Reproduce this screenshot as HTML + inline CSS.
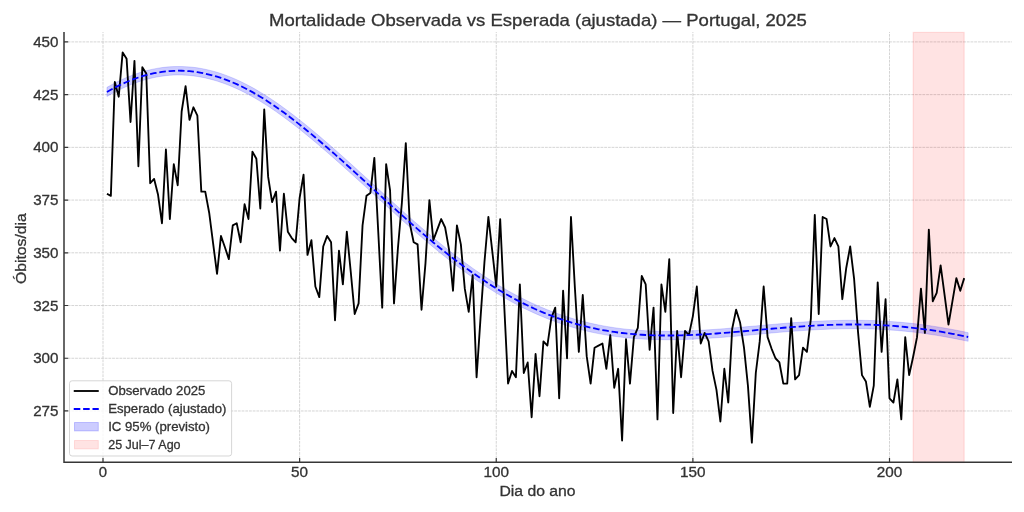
<!DOCTYPE html>
<html><head><meta charset="utf-8"><title>Mortalidade Observada vs Esperada</title>
<style>html,body{margin:0;padding:0;background:#fff;}body{width:1024px;height:512px;overflow:hidden;font-family:"Liberation Sans",sans-serif;}svg{display:block;will-change:transform;}</style>
</head><body>
<svg width="1024" height="512" viewBox="0 0 1024 512">
<rect width="1024" height="512" fill="#fff"/>
<path d="M103.00,462.2 V32.0 M299.62,462.2 V32.0 M496.25,462.2 V32.0 M692.88,462.2 V32.0 M889.50,462.2 V32.0 M64.0,410.97 H1012.0 M64.0,358.25 H1012.0 M64.0,305.52 H1012.0 M64.0,252.80 H1012.0 M64.0,200.08 H1012.0 M64.0,147.35 H1012.0 M64.0,94.62 H1012.0 M64.0,41.90 H1012.0" fill="none" stroke="#b0b0b0" stroke-opacity="0.7" stroke-width="0.75" stroke-dasharray="2.8 0.9"/>
<rect x="913.2" y="32.4" width="50.95" height="430.20" fill="#ff0000" fill-opacity="0.11" stroke="#ff0000" stroke-opacity="0.11" stroke-width="1.2"/>
<path d="M106.93,87.37 L110.86,85.16 L114.80,83.07 L118.73,81.09 L122.66,79.24 L126.59,77.51 L130.53,75.90 L134.46,74.42 L138.39,73.06 L142.32,71.83 L146.26,70.72 L150.19,69.74 L154.12,68.89 L158.06,68.17 L161.99,67.58 L165.92,67.12 L169.85,66.78 L173.78,66.58 L177.72,66.50 L181.65,66.52 L185.58,66.66 L189.51,66.93 L193.45,67.32 L197.38,67.84 L201.31,68.49 L205.25,69.25 L209.18,70.15 L213.11,71.16 L217.04,72.29 L220.98,73.54 L224.91,74.91 L228.84,76.39 L232.77,77.99 L236.71,79.70 L240.64,81.51 L244.57,83.44 L248.50,85.47 L252.44,87.60 L256.37,89.83 L260.30,92.16 L264.23,94.58 L268.16,97.08 L272.10,99.68 L276.03,102.35 L279.96,105.11 L283.89,107.94 L287.83,110.83 L291.76,113.80 L295.69,116.82 L299.62,119.91 L303.56,123.04 L307.49,126.23 L311.42,129.47 L315.36,132.75 L319.29,136.07 L323.22,139.42 L327.15,142.82 L331.09,146.24 L335.02,149.69 L338.95,153.17 L342.88,156.68 L346.81,160.21 L350.75,163.76 L354.68,167.32 L358.61,170.90 L362.55,174.49 L366.48,178.09 L370.41,181.69 L374.34,185.30 L378.28,188.91 L382.21,192.51 L386.14,196.11 L390.07,199.70 L394.00,203.28 L397.94,206.84 L401.87,210.39 L405.80,213.91 L409.74,217.41 L413.67,220.88 L417.60,224.32 L421.53,227.73 L425.47,231.11 L429.40,234.45 L433.33,237.75 L437.26,241.01 L441.19,244.23 L445.13,247.40 L449.06,250.52 L452.99,253.59 L456.93,256.62 L460.86,259.59 L464.79,262.51 L468.72,265.37 L472.66,268.18 L476.59,270.93 L480.52,273.62 L484.45,276.25 L488.38,278.82 L492.32,281.33 L496.25,283.77 L500.18,286.16 L504.12,288.48 L508.05,290.74 L511.98,292.93 L515.91,295.06 L519.85,297.12 L523.78,299.11 L527.71,301.05 L531.64,302.91 L535.58,304.71 L539.51,306.45 L543.44,308.12 L547.37,309.73 L551.31,311.27 L555.24,312.75 L559.17,314.16 L563.10,315.51 L567.04,316.80 L570.97,318.02 L574.90,319.19 L578.83,320.29 L582.76,321.34 L586.70,322.32 L590.63,323.25 L594.56,324.12 L598.50,324.93 L602.43,325.69 L606.36,326.40 L610.29,327.05 L614.23,327.65 L618.16,328.20 L622.09,328.70 L626.02,329.15 L629.96,329.55 L633.89,329.91 L637.82,330.23 L641.75,330.50 L645.69,330.73 L649.62,330.92 L653.55,331.06 L657.48,331.18 L661.41,331.25 L665.35,331.29 L669.28,331.30 L673.21,331.26 L677.14,331.20 L681.08,331.11 L685.01,330.99 L688.94,330.85 L692.88,330.68 L696.81,330.49 L700.74,330.27 L704.67,330.04 L708.61,329.79 L712.54,329.52 L716.47,329.24 L720.40,328.95 L724.34,328.64 L728.27,328.32 L732.20,327.99 L736.13,327.65 L740.07,327.31 L744.00,326.96 L747.93,326.61 L751.86,326.26 L755.80,325.90 L759.73,325.55 L763.66,325.19 L767.59,324.84 L771.52,324.50 L775.46,324.15 L779.39,323.82 L783.32,323.49 L787.25,323.18 L791.19,322.87 L795.12,322.58 L799.05,322.30 L802.99,322.03 L806.92,321.77 L810.85,321.54 L814.78,321.32 L818.72,321.11 L822.65,320.93 L826.58,320.77 L830.51,320.63 L834.45,320.50 L838.38,320.41 L842.31,320.33 L846.24,320.28 L850.18,320.26 L854.11,320.25 L858.04,320.27 L861.97,320.31 L865.90,320.39 L869.84,320.49 L873.77,320.61 L877.70,320.77 L881.63,320.96 L885.57,321.17 L889.50,321.42 L893.43,321.69 L897.37,322.00 L901.30,322.34 L905.23,322.70 L909.16,323.10 L913.10,323.53 L917.03,323.99 L920.96,324.48 L924.89,325.00 L928.83,325.55 L932.76,326.13 L936.69,326.74 L940.62,327.38 L944.56,328.05 L948.49,328.75 L952.42,329.48 L956.35,330.23 L960.28,331.01 L964.22,331.82 L968.15,332.65 L968.15,341.34 L964.22,340.50 L960.28,339.69 L956.35,338.90 L952.42,338.14 L948.49,337.41 L944.56,336.70 L940.62,336.02 L936.69,335.37 L932.76,334.75 L928.83,334.16 L924.89,333.60 L920.96,333.07 L917.03,332.57 L913.10,332.10 L909.16,331.66 L905.23,331.26 L901.30,330.88 L897.37,330.53 L893.43,330.22 L889.50,329.93 L885.57,329.68 L881.63,329.46 L877.70,329.26 L873.77,329.10 L869.84,328.96 L865.90,328.85 L861.97,328.77 L858.04,328.72 L854.11,328.69 L850.18,328.70 L846.24,328.73 L842.31,328.79 L838.38,328.87 L834.45,328.97 L830.51,329.10 L826.58,329.25 L822.65,329.42 L818.72,329.61 L814.78,329.82 L810.85,330.04 L806.92,330.28 L802.99,330.54 L799.05,330.82 L795.12,331.10 L791.19,331.40 L787.25,331.71 L783.32,332.03 L779.39,332.36 L775.46,332.69 L771.52,333.04 L767.59,333.38 L763.66,333.74 L759.73,334.09 L755.80,334.44 L751.86,334.80 L747.93,335.15 L744.00,335.50 L740.07,335.85 L736.13,336.19 L732.20,336.53 L728.27,336.85 L724.34,337.17 L720.40,337.47 L716.47,337.76 L712.54,338.04 L708.61,338.30 L704.67,338.55 L700.74,338.78 L696.81,338.98 L692.88,339.17 L688.94,339.33 L685.01,339.46 L681.08,339.58 L677.14,339.66 L673.21,339.71 L669.28,339.74 L665.35,339.74 L661.41,339.70 L657.48,339.64 L653.55,339.54 L649.62,339.40 L645.69,339.22 L641.75,339.01 L637.82,338.75 L633.89,338.45 L629.96,338.10 L626.02,337.71 L622.09,337.28 L618.16,336.79 L614.23,336.26 L610.29,335.67 L606.36,335.04 L602.43,334.35 L598.50,333.61 L594.56,332.81 L590.63,331.96 L586.70,331.05 L582.76,330.08 L578.83,329.05 L574.90,327.97 L570.97,326.82 L567.04,325.61 L563.10,324.34 L559.17,323.01 L555.24,321.62 L551.31,320.16 L547.37,318.64 L543.44,317.05 L539.51,315.40 L535.58,313.68 L531.64,311.90 L527.71,310.06 L523.78,308.14 L519.85,306.17 L515.91,304.12 L511.98,302.02 L508.05,299.84 L504.12,297.61 L500.18,295.31 L496.25,292.94 L492.32,290.51 L488.38,288.02 L484.45,285.47 L480.52,282.86 L476.59,280.19 L472.66,277.45 L468.72,274.66 L464.79,271.82 L460.86,268.92 L456.93,265.96 L452.99,262.95 L449.06,259.89 L445.13,256.79 L441.19,253.63 L437.26,250.43 L433.33,247.18 L429.40,243.89 L425.47,240.57 L421.53,237.20 L417.60,233.80 L413.67,230.37 L409.74,226.90 L405.80,223.41 L401.87,219.90 L397.94,216.36 L394.00,212.80 L390.07,209.23 L386.14,205.64 L382.21,202.04 L378.28,198.44 L374.34,194.83 L370.41,191.23 L366.48,187.62 L362.55,184.02 L358.61,180.42 L354.68,176.84 L350.75,173.27 L346.81,169.72 L342.88,166.19 L338.95,162.67 L335.02,159.18 L331.09,155.72 L327.15,152.29 L323.22,148.89 L319.29,145.52 L315.36,142.19 L311.42,138.90 L307.49,135.65 L303.56,132.44 L299.62,129.29 L295.69,126.19 L291.76,123.15 L287.83,120.16 L283.89,117.25 L279.96,114.40 L276.03,111.62 L272.10,108.92 L268.16,106.30 L264.23,103.77 L260.30,101.32 L256.37,98.96 L252.44,96.70 L248.50,94.54 L244.57,92.48 L240.64,90.52 L236.71,88.67 L232.77,86.93 L228.84,85.30 L224.91,83.78 L220.98,82.38 L217.04,81.09 L213.11,79.92 L209.18,78.88 L205.25,77.95 L201.31,77.14 L197.38,76.46 L193.45,75.90 L189.51,75.47 L185.58,75.16 L181.65,74.99 L177.72,74.94 L173.78,75.06 L169.85,75.31 L165.92,75.68 L161.99,76.18 L158.06,76.81 L154.12,77.57 L150.19,78.46 L146.26,79.48 L142.32,80.62 L138.39,81.90 L134.46,83.29 L130.53,84.81 L126.59,86.46 L122.66,88.23 L118.73,90.12 L114.80,92.12 L110.86,94.25 L106.93,96.48Z" fill="#0000ff" fill-opacity="0.2" stroke="#0000ff" stroke-opacity="0.15" stroke-width="1.0" stroke-linejoin="miter"/>
<path d="M106.93,193.75 L110.86,195.86 L114.80,81.97 L118.73,96.73 L122.66,52.45 L126.59,58.77 L130.53,122.04 L134.46,60.88 L138.39,166.33 L142.32,67.21 L146.26,73.53 L150.19,183.20 L154.12,178.99 L158.06,194.80 L161.99,223.27 L165.92,149.46 L169.85,219.06 L173.78,164.22 L177.72,185.31 L181.65,111.50 L185.58,86.19 L189.51,119.93 L193.45,107.28 L197.38,115.72 L201.31,191.64 L205.25,191.64 L209.18,212.73 L213.11,243.31 L217.04,273.89 L220.98,235.93 L224.91,247.32 L228.84,259.13 L232.77,225.38 L236.71,223.27 L240.64,242.25 L244.57,204.29 L248.50,219.06 L252.44,151.57 L256.37,158.74 L260.30,208.51 L264.23,109.39 L268.16,176.88 L272.10,202.18 L276.03,191.64 L279.96,250.69 L283.89,193.75 L287.83,231.71 L291.76,238.04 L295.69,242.25 L299.62,197.97 L303.56,174.77 L307.49,254.91 L311.42,240.15 L315.36,286.54 L319.29,297.09 L323.22,246.47 L327.15,235.93 L331.09,242.25 L335.02,320.29 L338.95,250.69 L342.88,284.44 L346.81,231.71 L350.75,271.78 L354.68,313.96 L358.61,303.42 L362.55,225.38 L366.48,195.86 L370.41,192.90 L374.34,157.90 L378.28,232.55 L382.21,307.63 L386.14,164.22 L390.07,190.37 L394.00,303.42 L397.94,247.95 L401.87,203.03 L405.80,143.13 L409.74,223.27 L413.67,242.25 L417.60,244.36 L421.53,309.74 L425.47,263.34 L429.40,200.08 L433.33,240.15 L437.26,229.60 L441.19,219.06 L445.13,227.49 L449.06,249.64 L452.99,290.76 L456.93,225.38 L460.86,244.36 L464.79,288.65 L468.72,311.85 L472.66,275.16 L476.59,377.23 L480.52,318.18 L484.45,262.08 L488.38,216.95 L492.32,251.53 L496.25,286.54 L500.18,219.06 L504.12,303.42 L508.05,383.56 L511.98,370.90 L515.91,377.23 L519.85,284.44 L523.78,373.01 L527.71,362.47 L531.64,417.30 L535.58,354.03 L539.51,396.21 L543.44,341.38 L547.37,345.60 L551.31,318.18 L555.24,307.63 L559.17,398.32 L563.10,290.76 L567.04,358.25 L570.97,216.95 L574.90,288.02 L578.83,351.92 L582.76,294.98 L586.70,356.14 L590.63,383.56 L594.56,347.70 L598.50,345.60 L602.43,343.49 L606.36,368.79 L610.29,335.05 L614.23,387.78 L618.16,368.79 L622.09,440.50 L626.02,339.27 L629.96,383.56 L633.89,337.16 L637.82,327.88 L641.75,276.00 L645.69,284.44 L649.62,349.81 L653.55,307.63 L657.48,419.41 L661.41,284.44 L665.35,311.85 L669.28,259.13 L673.21,413.08 L677.14,330.83 L681.08,377.23 L685.01,330.83 L688.94,335.05 L692.88,316.07 L696.81,286.54 L700.74,343.49 L704.67,332.94 L708.61,341.38 L712.54,370.90 L716.47,389.88 L720.40,421.52 L724.34,368.79 L728.27,402.54 L732.20,328.72 L736.13,309.74 L740.07,322.40 L744.00,347.70 L747.93,385.67 L751.86,442.61 L755.80,373.01 L759.73,341.38 L763.66,286.54 L767.59,337.16 L771.52,348.55 L775.46,358.25 L779.39,362.47 L783.32,383.56 L787.25,383.56 L791.19,318.18 L795.12,379.34 L799.05,375.12 L802.99,347.70 L806.92,351.92 L810.85,318.81 L814.78,214.84 L818.72,313.96 L822.65,216.95 L826.58,219.06 L830.51,246.47 L834.45,238.04 L838.38,246.47 L842.31,299.20 L846.24,267.98 L850.18,246.47 L854.11,278.95 L858.04,332.10 L861.97,375.12 L865.90,381.45 L869.84,406.76 L873.77,385.67 L877.70,282.33 L881.63,351.92 L885.57,299.20 L889.50,398.32 L893.43,402.54 L897.37,379.34 L901.30,419.41 L905.23,337.16 L909.16,375.12 L913.10,356.98 L917.03,337.16 L920.96,288.65 L924.89,332.94 L928.83,229.60 L932.76,301.31 L936.69,292.87 L940.62,265.45 L944.56,294.98 L948.49,324.51 L952.42,301.31 L956.35,278.11 L960.28,290.76 L964.22,278.11" fill="none" stroke="#000" stroke-width="1.85" stroke-linejoin="round" stroke-linecap="butt"/>
<path d="M106.93,91.93 L110.86,89.70 L114.80,87.59 L118.73,85.60 L122.66,83.73 L126.59,81.98 L130.53,80.36 L134.46,78.86 L138.39,77.48 L142.32,76.23 L146.26,75.10 L150.19,74.10 L154.12,73.23 L158.06,72.49 L161.99,71.88 L165.92,71.40 L169.85,71.04 L173.78,70.82 L177.72,70.72 L181.65,70.75 L185.58,70.91 L189.51,71.20 L193.45,71.61 L197.38,72.15 L201.31,72.81 L205.25,73.60 L209.18,74.51 L213.11,75.54 L217.04,76.69 L220.98,77.96 L224.91,79.35 L228.84,80.85 L232.77,82.46 L236.71,84.19 L240.64,86.02 L244.57,87.96 L248.50,90.01 L252.44,92.15 L256.37,94.40 L260.30,96.74 L264.23,99.17 L268.16,101.69 L272.10,104.30 L276.03,106.99 L279.96,109.75 L283.89,112.59 L287.83,115.50 L291.76,118.47 L295.69,121.51 L299.62,124.60 L303.56,127.74 L307.49,130.94 L311.42,134.18 L315.36,137.47 L319.29,140.79 L323.22,144.16 L327.15,147.55 L331.09,150.98 L335.02,154.44 L338.95,157.92 L342.88,161.43 L346.81,164.96 L350.75,168.51 L354.68,172.08 L358.61,175.66 L362.55,179.25 L366.48,182.85 L370.41,186.46 L374.34,190.07 L378.28,193.68 L382.21,197.28 L386.14,200.88 L390.07,204.47 L394.00,208.04 L397.94,211.60 L401.87,215.14 L405.80,218.66 L409.74,222.16 L413.67,225.62 L417.60,229.06 L421.53,232.47 L425.47,235.84 L429.40,239.17 L433.33,242.47 L437.26,245.72 L441.19,248.93 L445.13,252.09 L449.06,255.21 L452.99,258.27 L456.93,261.29 L460.86,264.25 L464.79,267.16 L468.72,270.02 L472.66,272.82 L476.59,275.56 L480.52,278.24 L484.45,280.86 L488.38,283.42 L492.32,285.92 L496.25,288.36 L500.18,290.73 L504.12,293.04 L508.05,295.29 L511.98,297.47 L515.91,299.59 L519.85,301.64 L523.78,303.63 L527.71,305.55 L531.64,307.41 L535.58,309.20 L539.51,310.93 L543.44,312.59 L547.37,314.18 L551.31,315.71 L555.24,317.18 L559.17,318.59 L563.10,319.93 L567.04,321.21 L570.97,322.42 L574.90,323.58 L578.83,324.67 L582.76,325.71 L586.70,326.68 L590.63,327.60 L594.56,328.46 L598.50,329.27 L602.43,330.02 L606.36,330.72 L610.29,331.36 L614.23,331.95 L618.16,332.50 L622.09,332.99 L626.02,333.43 L629.96,333.83 L633.89,334.18 L637.82,334.49 L641.75,334.75 L645.69,334.98 L649.62,335.16 L653.55,335.30 L657.48,335.41 L661.41,335.48 L665.35,335.51 L669.28,335.52 L673.21,335.49 L677.14,335.43 L681.08,335.34 L685.01,335.23 L688.94,335.09 L692.88,334.92 L696.81,334.73 L700.74,334.52 L704.67,334.29 L708.61,334.05 L712.54,333.78 L716.47,333.50 L720.40,333.21 L724.34,332.90 L728.27,332.59 L732.20,332.26 L736.13,331.92 L740.07,331.58 L744.00,331.23 L747.93,330.88 L751.86,330.53 L755.80,330.17 L759.73,329.82 L763.66,329.46 L767.59,329.11 L771.52,328.77 L775.46,328.42 L779.39,328.09 L783.32,327.76 L787.25,327.44 L791.19,327.14 L795.12,326.84 L799.05,326.56 L802.99,326.28 L806.92,326.03 L810.85,325.79 L814.78,325.57 L818.72,325.36 L822.65,325.18 L826.58,325.01 L830.51,324.86 L834.45,324.74 L838.38,324.64 L842.31,324.56 L846.24,324.51 L850.18,324.48 L854.11,324.47 L858.04,324.49 L861.97,324.54 L865.90,324.62 L869.84,324.72 L873.77,324.85 L877.70,325.02 L881.63,325.21 L885.57,325.43 L889.50,325.68 L893.43,325.96 L897.37,326.27 L901.30,326.61 L905.23,326.98 L909.16,327.38 L913.10,327.82 L917.03,328.28 L920.96,328.78 L924.89,329.30 L928.83,329.86 L932.76,330.44 L936.69,331.06 L940.62,331.70 L944.56,332.38 L948.49,333.08 L952.42,333.81 L956.35,334.57 L960.28,335.35 L964.22,336.16 L968.15,337.00" fill="none" stroke="#0000ff" stroke-width="1.8" stroke-dasharray="6.55 2.83"/>
<path d="M64.0,32.0 V462.95 M63.25,462.2 H1012.0" fill="none" stroke="#363636" stroke-width="1.5"/>
<path d="M103.00,462.2 v-4.2 M299.62,462.2 v-4.2 M496.25,462.2 v-4.2 M692.88,462.2 v-4.2 M889.50,462.2 v-4.2 M64.0,410.97 h4.2 M64.0,358.25 h4.2 M64.0,305.52 h4.2 M64.0,252.80 h4.2 M64.0,200.08 h4.2 M64.0,147.35 h4.2 M64.0,94.62 h4.2 M64.0,41.90 h4.2" fill="none" stroke="#363636" stroke-width="1.2"/>
<text x="98.85" y="477.20" font-size="14.1" text-anchor="start" fill="#333333" stroke="#333333" stroke-width="0.3" font-family="Liberation Sans, sans-serif" textLength="8.3" lengthAdjust="spacingAndGlyphs">0</text>
<text x="291.12" y="477.20" font-size="14.1" text-anchor="start" fill="#333333" stroke="#333333" stroke-width="0.3" font-family="Liberation Sans, sans-serif" textLength="17.0" lengthAdjust="spacingAndGlyphs">50</text>
<text x="483.50" y="477.20" font-size="14.1" text-anchor="start" fill="#333333" stroke="#333333" stroke-width="0.3" font-family="Liberation Sans, sans-serif" textLength="25.5" lengthAdjust="spacingAndGlyphs">100</text>
<text x="680.12" y="477.20" font-size="14.1" text-anchor="start" fill="#333333" stroke="#333333" stroke-width="0.3" font-family="Liberation Sans, sans-serif" textLength="25.5" lengthAdjust="spacingAndGlyphs">150</text>
<text x="876.75" y="477.20" font-size="14.1" text-anchor="start" fill="#333333" stroke="#333333" stroke-width="0.3" font-family="Liberation Sans, sans-serif" textLength="25.5" lengthAdjust="spacingAndGlyphs">200</text>
<text x="33.20" y="416.07" font-size="14.1" text-anchor="start" fill="#333333" stroke="#333333" stroke-width="0.3" font-family="Liberation Sans, sans-serif" textLength="25.3" lengthAdjust="spacingAndGlyphs">275</text>
<text x="33.20" y="363.35" font-size="14.1" text-anchor="start" fill="#333333" stroke="#333333" stroke-width="0.3" font-family="Liberation Sans, sans-serif" textLength="25.3" lengthAdjust="spacingAndGlyphs">300</text>
<text x="33.20" y="310.62" font-size="14.1" text-anchor="start" fill="#333333" stroke="#333333" stroke-width="0.3" font-family="Liberation Sans, sans-serif" textLength="25.3" lengthAdjust="spacingAndGlyphs">325</text>
<text x="33.20" y="257.90" font-size="14.1" text-anchor="start" fill="#333333" stroke="#333333" stroke-width="0.3" font-family="Liberation Sans, sans-serif" textLength="25.3" lengthAdjust="spacingAndGlyphs">350</text>
<text x="33.20" y="205.18" font-size="14.1" text-anchor="start" fill="#333333" stroke="#333333" stroke-width="0.3" font-family="Liberation Sans, sans-serif" textLength="25.3" lengthAdjust="spacingAndGlyphs">375</text>
<text x="33.20" y="152.45" font-size="14.1" text-anchor="start" fill="#333333" stroke="#333333" stroke-width="0.3" font-family="Liberation Sans, sans-serif" textLength="25.3" lengthAdjust="spacingAndGlyphs">400</text>
<text x="33.20" y="99.72" font-size="14.1" text-anchor="start" fill="#333333" stroke="#333333" stroke-width="0.3" font-family="Liberation Sans, sans-serif" textLength="25.3" lengthAdjust="spacingAndGlyphs">425</text>
<text x="33.20" y="47.00" font-size="14.1" text-anchor="start" fill="#333333" stroke="#333333" stroke-width="0.3" font-family="Liberation Sans, sans-serif" textLength="25.3" lengthAdjust="spacingAndGlyphs">450</text>
<text x="499.40" y="495.70" font-size="15.4" text-anchor="start" fill="#333333" stroke="#333333" stroke-width="0.3" font-family="Liberation Sans, sans-serif" textLength="76.2" lengthAdjust="spacingAndGlyphs">Dia do ano</text>
<g transform="translate(25.7,284.1) rotate(-90)"><text x="0.00" y="0.00" font-size="15.4" text-anchor="start" fill="#333333" stroke="#333333" stroke-width="0.3" font-family="Liberation Sans, sans-serif" textLength="70.9" lengthAdjust="spacingAndGlyphs">Óbitos/dia</text></g>
<text x="269.00" y="25.50" font-size="16.6" text-anchor="start" fill="#333333" stroke="#333333" stroke-width="0.3" font-family="Liberation Sans, sans-serif" textLength="537.8" lengthAdjust="spacingAndGlyphs">Mortalidade Observada vs Esperada (ajustada) — Portugal, 2025</text>
<rect x="69.5" y="380.8" width="162.1" height="75.2" rx="2.6" ry="2.6" fill="#fff" fill-opacity="0.8" stroke="#cccccc" stroke-opacity="0.8" stroke-width="1"/>
<path d="M73.75,391 H98.75" stroke="#000" stroke-width="1.85" fill="none"/>
<path d="M73.75,409 H98.75" stroke="#0000ff" stroke-width="1.8" stroke-dasharray="6.55 2.83" fill="none"/>
<rect x="74.5" y="422.5" width="23.8" height="8.4" fill="#0000ff" fill-opacity="0.2" stroke="#0000ff" stroke-opacity="0.2" stroke-width="1"/>
<rect x="74.5" y="440.5" width="23.8" height="8.4" fill="#ff0000" fill-opacity="0.11" stroke="#ff0000" stroke-opacity="0.11" stroke-width="1"/>
<text x="108.20" y="395.40" font-size="12.7" text-anchor="start" fill="#333333" stroke="#333333" stroke-width="0.3" font-family="Liberation Sans, sans-serif" textLength="97.1" lengthAdjust="spacingAndGlyphs">Observado 2025</text>
<text x="108.20" y="413.20" font-size="12.7" text-anchor="start" fill="#333333" stroke="#333333" stroke-width="0.3" font-family="Liberation Sans, sans-serif" textLength="118.3" lengthAdjust="spacingAndGlyphs">Esperado (ajustado)</text>
<text x="108.20" y="431.00" font-size="12.7" text-anchor="start" fill="#333333" stroke="#333333" stroke-width="0.3" font-family="Liberation Sans, sans-serif" textLength="101.8" lengthAdjust="spacingAndGlyphs">IC 95% (previsto)</text>
<text x="108.20" y="448.80" font-size="12.7" text-anchor="start" fill="#333333" stroke="#333333" stroke-width="0.3" font-family="Liberation Sans, sans-serif" textLength="72.4" lengthAdjust="spacingAndGlyphs">25 Jul–7 Ago</text>
</svg>
</body></html>
